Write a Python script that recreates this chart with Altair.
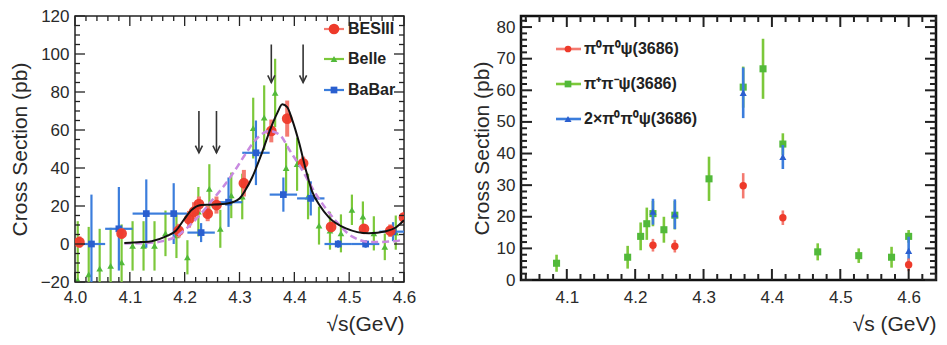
import altair as alt
import numpy as np
import pandas as pd

FONT = "Liberation Sans"
TXT = "#2a2a2a"

# ---------------- left panel data ----------------
besiii_x = [4.008, 4.085, 4.189, 4.208, 4.217, 4.226, 4.242, 4.258, 4.308, 4.358, 4.387, 4.416, 4.467, 4.527, 4.575, 4.600]
besiii_y = [1.0, 5.5, 7.0, 13.0, 17.0, 21.0, 16.0, 20.5, 32.0, 59.5, 66.0, 42.5, 9.0, 8.0, 7.0, 14.0]
besiii_e = [3.0, 2.7, 3.6, 4.4, 5.0, 4.0, 4.0, 4.5, 7.0, 6.0, 9.5, 3.5, 2.7, 2.3, 3.3, 2.0]

belle_x = [4.005, 4.025, 4.045, 4.065, 4.085, 4.105, 4.125, 4.145, 4.165, 4.185,
           4.205, 4.225, 4.245, 4.265, 4.285, 4.305, 4.325, 4.345, 4.365, 4.385,
           4.405, 4.425, 4.445, 4.465, 4.485, 4.505, 4.525, 4.545, 4.565, 4.585]
belle_y = [-19.0, -16.0, -13.0, -11.5, -9.7, -1.0, -1.0, -1.0, 5.6, 4.6,
           -7.0, 17.0, 29.0, 8.0, 25.6, 25.0, 61.0, 66.5, 79.5, 40.0,
           42.0, 25.0, 9.7, 7.0, 5.6, 18.0, 14.4, 5.6, -1.5, 6.0]
belle_e = [31, 25, 21, 20, 20, 13, 13, 13, 12, 12,
           9, 13, 13, 10, 12, 12, 16, 17, 18, 13,
           14, 12, 10, 10, 10, 8, 8, 9, 7, 9]

babar_x = [4.03, 4.08, 4.13, 4.18, 4.23, 4.28, 4.33, 4.38, 4.43, 4.48, 4.53, 4.58]
babar_y = [0.0, 8.0, 16.0, 16.0, 6.0, 22.0, 48.0, 26.0, 24.0, 0.0, 0.0, 6.5]
babar_e = [26, 22, 18, 16, 5, 13, 17, 9, 9, 2, 2, 5]
babar_hw = 0.025

fit_x = [4.09, 4.12, 4.14, 4.166, 4.184, 4.199, 4.213, 4.23, 4.25, 4.28, 4.30, 4.31,
         4.323, 4.341, 4.357, 4.369, 4.378, 4.387, 4.396, 4.409, 4.421, 4.432, 4.447,
         4.463, 4.494, 4.536, 4.567, 4.585, 4.60]
fit_y = [0.5, 1.0, 1.5, 4.0, 7.0, 13.0, 18.0, 20.5, 20.7, 21.5, 24.0, 28.0,
         35.0, 48.0, 61.0, 69.0, 73.5, 72.0, 65.5, 53.0, 39.0, 28.0, 20.0,
         14.0, 8.2, 5.6, 6.7, 8.7, 12.5]

alt_x = [4.09, 4.13, 4.16, 4.19, 4.21, 4.23, 4.25, 4.27, 4.29, 4.31, 4.33, 4.355,
         4.375, 4.39, 4.41, 4.44, 4.476, 4.505, 4.54, 4.585, 4.60]
alt_y = [0.3, 0.5, 1.5, 5.0, 10.0, 16.0, 23.0, 30.0, 38.0, 47.0, 55.0, 59.5,
         57.0, 50.0, 41.0, 26.0, 12.0, 4.0, 1.0, 1.5, 2.5]

arrow_x = [4.226, 4.258, 4.358, 4.416]
arrow_top = [70, 70, 105, 105]
arrow_tip = [48, 48, 85, 85]

left_labels = ["BESIII", "Belle", "BaBar"]

# ---------------- right panel data ----------------
pp0_x = [4.226, 4.258, 4.358, 4.416, 4.600]
pp0_y = [11.0, 10.7, 29.8, 19.7, 4.8]
pp0_e = [2.0, 2.0, 4.0, 2.3, 2.0]

ppc_x = [4.085, 4.189, 4.208, 4.217, 4.226, 4.242, 4.258, 4.308, 4.358, 4.387, 4.416, 4.467, 4.527, 4.575, 4.600]
ppc_y = [5.3, 7.2, 13.8, 17.8, 21.0, 15.9, 20.5, 32.0, 61.0, 66.8, 43.0, 8.9, 7.7, 7.2, 13.8]
ppc_e = [2.7, 3.6, 4.4, 5.1, 4.0, 4.1, 4.5, 7.0, 6.5, 9.5, 3.4, 2.7, 2.3, 3.3, 2.0]

p2_x = [4.226, 4.258, 4.358, 4.416, 4.600]
p2_y = [21.6, 20.8, 59.2, 38.9, 9.2]
p2_e = [4.1, 4.7, 8.0, 3.8, 4.5]

right_labels = ["π⁰π⁰ψ(3686)", "π⁺π⁻ψ(3686)", "2×π⁰π⁰ψ(3686)"]

# ---------------- styling ----------------
RED = "#ee3a2a"
RED_E = "#f47a70"
GREEN = "#52b93a"
GREEN_E = "#7cc83a"
BLUE = "#2a5fcf"
BLUE_E = "#3b7ddc"
VIOLET = "#c88ae0"

W1, H1 = 329, 266
W2, H2 = 415, 264

xs1 = alt.Scale(domain=[4.0, 4.6], nice=False, zero=False)
ys1 = alt.Scale(domain=[-20, 120], nice=False, zero=False)
xs2 = alt.Scale(domain=[4.033, 4.64], nice=False, zero=False)
ys2 = alt.Scale(domain=[0, 83.5], nice=False, zero=False)

axis_common = dict(ticks=False, domain=False, grid=False, labelFlush=False,
                   labelFont=FONT, titleFont=FONT, labelFontSize=17, titleFontSize=21,
                   titleFontWeight="normal", labelColor=TXT, titleColor=TXT,
                   labelOverlap=False)

ax_x1 = alt.Axis(values=[round(4.0 + 0.1 * i, 1) for i in range(7)], format=".1f",
                 title="√s(GeV)", titleAnchor="end", labelPadding=7, titlePadding=8, **axis_common)
ax_y1 = alt.Axis(values=list(range(-20, 121, 20)), title="Cross Section (pb)",
                 labelPadding=6, titlePadding=10, **axis_common)
ax_x2 = alt.Axis(values=[round(4.1 + 0.1 * i, 1) for i in range(6)], format=".1f",
                 title="√s (GeV)", titleAnchor="end", labelPadding=9, titlePadding=8, **axis_common)
ax_y2 = alt.Axis(values=list(range(0, 81, 10)), title="Cross Section (pb)",
                 labelPadding=6, titlePadding=4, **axis_common)


def err_df(xv, yv, ev):
    d = pd.DataFrame({"x": xv, "y": yv, "e": ev})
    d["lo"] = d["y"] - d["e"]
    d["hi"] = d["y"] + d["e"]
    return d


def tick_df(major, minor, W, H, Lmaj, Lmin, direction):
    rows = []
    for vals, L in ((major, Lmaj), (minor, Lmin)):
        for v in vals:
            if direction == "y":
                rows.append({"v": v, "p0": 0, "p1": L})
                rows.append({"v": v, "p0": W - L, "p1": W})
            else:
                rows.append({"v": v, "p0": H, "p1": H - L})
                rows.append({"v": v, "p0": 0, "p1": L})
    return pd.DataFrame(rows)


def tick_layers(xs, ys, xmaj, xmin, ymaj, ymin, W, H, Lmaj, Lmin, sw):
    ty = tick_df(ymaj, ymin, W, H, Lmaj, Lmin, "y")
    tx = tick_df(xmaj, xmin, W, H, Lmaj, Lmin, "x")
    ly = alt.Chart(ty).mark_rule(color="#222", strokeWidth=sw).encode(
        y=alt.Y("v:Q", scale=ys, axis=None),
        x=alt.X("p0:Q", scale=None, axis=None), x2="p1:Q")
    lx = alt.Chart(tx).mark_rule(color="#222", strokeWidth=sw).encode(
        x=alt.X("v:Q", scale=xs, axis=None),
        y=alt.Y("p0:Q", scale=None, axis=None), y2="p1:Q")
    return [ly, lx]


def minor_vals(start, stop, step, majors):
    out = []
    n = int(round((stop - start) / step))
    for i in range(n + 1):
        v = round(start + i * step, 4)
        if all(abs(v - m) > 1e-6 for m in majors):
            out.append(v)
    return out


# ---------------- left chart ----------------
belle = err_df(belle_x, belle_y, belle_e)
babar = err_df(babar_x, babar_y, babar_e)
babar["xl"] = babar["x"] - babar_hw
babar["xr"] = babar["x"] + babar_hw
bes = err_df(besiii_x, besiii_y, besiii_e)
fit = pd.DataFrame({"x": fit_x, "y": fit_y})
altfit = pd.DataFrame({"x": alt_x, "y": alt_y})
arrows = pd.DataFrame({"x": arrow_x, "top": arrow_top, "tip": arrow_tip})

L = []
L.append(alt.Chart(belle).mark_rule(color=GREEN_E, strokeWidth=2.2, clip=True).encode(
    x=alt.X("x:Q", scale=xs1, axis=ax_x1), y=alt.Y("lo:Q", scale=ys1, axis=ax_y1), y2="hi:Q"))
L.append(alt.Chart(belle).mark_point(shape="triangle-up", filled=True, size=45, color=GREEN,
                                     opacity=1, clip=True).encode(
    x=alt.X("x:Q", scale=xs1, axis=None), y=alt.Y("y:Q", scale=ys1, axis=None)))
L.append(alt.Chart(babar).mark_rule(color=BLUE_E, strokeWidth=2.2, clip=True).encode(
    x=alt.X("x:Q", scale=xs1, axis=None), y=alt.Y("lo:Q", scale=ys1, axis=None), y2="hi:Q"))
L.append(alt.Chart(babar).mark_rule(color=BLUE_E, strokeWidth=2.2, clip=True).encode(
    x=alt.X("xl:Q", scale=xs1, axis=None), x2="xr:Q", y=alt.Y("y:Q", scale=ys1, axis=None)))
L.append(alt.Chart(babar).mark_point(shape="square", filled=True, size=45, color=BLUE,
                                     opacity=1, clip=True).encode(
    x=alt.X("x:Q", scale=xs1, axis=None), y=alt.Y("y:Q", scale=ys1, axis=None)))
L.append(alt.Chart(bes).mark_rule(color=RED_E, strokeWidth=4, clip=True).encode(
    x=alt.X("x:Q", scale=xs1, axis=None), y=alt.Y("lo:Q", scale=ys1, axis=None), y2="hi:Q"))
L.append(alt.Chart(bes).mark_circle(size=115, color=RED, opacity=0.95, clip=True).encode(
    x=alt.X("x:Q", scale=xs1, axis=None), y=alt.Y("y:Q", scale=ys1, axis=None)))
L.append(alt.Chart(altfit).mark_line(color=VIOLET, strokeWidth=2.5, strokeDash=[7, 4],
                                     interpolate="monotone", clip=True).encode(
    x=alt.X("x:Q", scale=xs1, axis=None), y=alt.Y("y:Q", scale=ys1, axis=None)))
L.append(alt.Chart(fit).mark_line(color="#111", strokeWidth=2, interpolate="monotone",
                                  clip=True).encode(
    x=alt.X("x:Q", scale=xs1, axis=None), y=alt.Y("y:Q", scale=ys1, axis=None)))
L.append(alt.Chart(arrows).mark_rule(color="#333", strokeWidth=1.6).encode(
    x=alt.X("x:Q", scale=xs1, axis=None), y=alt.Y("top:Q", scale=ys1, axis=None), y2="tip:Q"))
L.append(alt.Chart(arrows).mark_point(shape="M-0.5,-1L0,0L0.5,-1", filled=False, size=200,
                                      color="#333", strokeWidth=1.6, opacity=1).encode(
    x=alt.X("x:Q", scale=xs1, axis=None), y=alt.Y("tip:Q", scale=ys1, axis=None)))

xmaj1 = [round(4.0 + 0.1 * i, 1) for i in range(7)]
ymaj1 = list(range(-20, 121, 20))
L += tick_layers(xs1, ys1, xmaj1, minor_vals(4.0, 4.6, 0.02, xmaj1),
                 ymaj1, minor_vals(-20, 120, 5, ymaj1), W1, H1, 10, 5, 1.3)

leg1 = pd.DataFrame({"label": left_labels, "py": [13, 43, 74],
                     "col": [RED, GREEN, BLUE], "lcol": [RED_E, GREEN_E, BLUE_E],
                     "shp": ["circle", "triangle-up", "square"], "sz": [115, 45, 45]})
L.append(alt.Chart(leg1).mark_rule(strokeWidth=2.2).encode(
    x=alt.value(249), x2=alt.value(269), y=alt.Y("py:Q", scale=None, axis=None),
    color=alt.Color("lcol:N", scale=None)))
L.append(alt.Chart(leg1).mark_point(filled=True, opacity=1).encode(
    x=alt.value(259), y=alt.Y("py:Q", scale=None, axis=None),
    color=alt.Color("col:N", scale=None), shape=alt.Shape("shp:N", scale=None),
    size=alt.Size("sz:Q", scale=None)))
L.append(alt.Chart(leg1).mark_text(align="left", baseline="middle", font=FONT, fontSize=16,
                                   fontWeight="bold", color="#222").encode(
    x=alt.value(273), y=alt.Y("py:Q", scale=None, axis=None), text="label:N"))

left = alt.layer(*L).resolve_scale(x="independent", y="independent").properties(
    width=W1, height=H1, view=alt.ViewBackground(stroke="#222", strokeWidth=1.5))

# ---------------- right chart ----------------
d0 = err_df(pp0_x, pp0_y, pp0_e)
dc = err_df(ppc_x, ppc_y, ppc_e)
d2 = err_df(p2_x, p2_y, p2_e)

R = []
R.append(alt.Chart(dc).mark_rule(color=GREEN_E, strokeWidth=2.6).encode(
    x=alt.X("x:Q", scale=xs2, axis=ax_x2), y=alt.Y("lo:Q", scale=ys2, axis=ax_y2), y2="hi:Q"))
R.append(alt.Chart(dc).mark_point(shape="square", filled=True, size=50, color=GREEN, opacity=1).encode(
    x=alt.X("x:Q", scale=xs2, axis=None), y=alt.Y("y:Q", scale=ys2, axis=None)))
R.append(alt.Chart(d2).mark_rule(color=BLUE_E, strokeWidth=2.6).encode(
    x=alt.X("x:Q", scale=xs2, axis=None), y=alt.Y("lo:Q", scale=ys2, axis=None), y2="hi:Q"))
R.append(alt.Chart(d2).mark_point(shape="triangle-up", filled=True, size=50, color=BLUE, opacity=1).encode(
    x=alt.X("x:Q", scale=xs2, axis=None), y=alt.Y("y:Q", scale=ys2, axis=None)))
R.append(alt.Chart(d0).mark_rule(color=RED_E, strokeWidth=2.6).encode(
    x=alt.X("x:Q", scale=xs2, axis=None), y=alt.Y("lo:Q", scale=ys2, axis=None), y2="hi:Q"))
R.append(alt.Chart(d0).mark_circle(size=55, color=RED, opacity=1).encode(
    x=alt.X("x:Q", scale=xs2, axis=None), y=alt.Y("y:Q", scale=ys2, axis=None)))

xmaj2 = [round(4.1 + 0.1 * i, 1) for i in range(6)]
ymaj2 = list(range(0, 81, 10))
R += tick_layers(xs2, ys2, xmaj2, minor_vals(4.04, 4.64, 0.02, xmaj2),
                 ymaj2, minor_vals(0, 82, 2, ymaj2), W2, H2, 11, 6, 2.0)

leg2 = pd.DataFrame({"label": right_labels, "py": [33, 68, 103],
                     "col": [RED, GREEN, BLUE], "lcol": [RED_E, GREEN_E, BLUE_E],
                     "shp": ["circle", "square", "triangle-up"], "sz": [45, 45, 50]})
R.append(alt.Chart(leg2).mark_rule(strokeWidth=2.6).encode(
    x=alt.value(35), x2=alt.value(60), y=alt.Y("py:Q", scale=None, axis=None),
    color=alt.Color("lcol:N", scale=None)))
R.append(alt.Chart(leg2).mark_point(filled=True, opacity=1).encode(
    x=alt.value(47), y=alt.Y("py:Q", scale=None, axis=None),
    color=alt.Color("col:N", scale=None), shape=alt.Shape("shp:N", scale=None),
    size=alt.Size("sz:Q", scale=None)))
R.append(alt.Chart(leg2).mark_text(align="left", baseline="middle", font=FONT, fontSize=16,
                                   fontWeight="bold", color="#222").encode(
    x=alt.value(63), y=alt.Y("py:Q", scale=None, axis=None), text="label:N"))

right = alt.layer(*R).resolve_scale(x="independent", y="independent").properties(
    width=W2, height=H2, view=alt.ViewBackground(stroke="#111", strokeWidth=2.5))

chart = alt.hconcat(left, right, spacing=117, bounds="flush").properties(
    padding={"top": -2, "left": 0, "right": 0, "bottom": 0},
    background="white")

chart.save("out.html", embed_options={"renderer": "svg", "actions": False})
